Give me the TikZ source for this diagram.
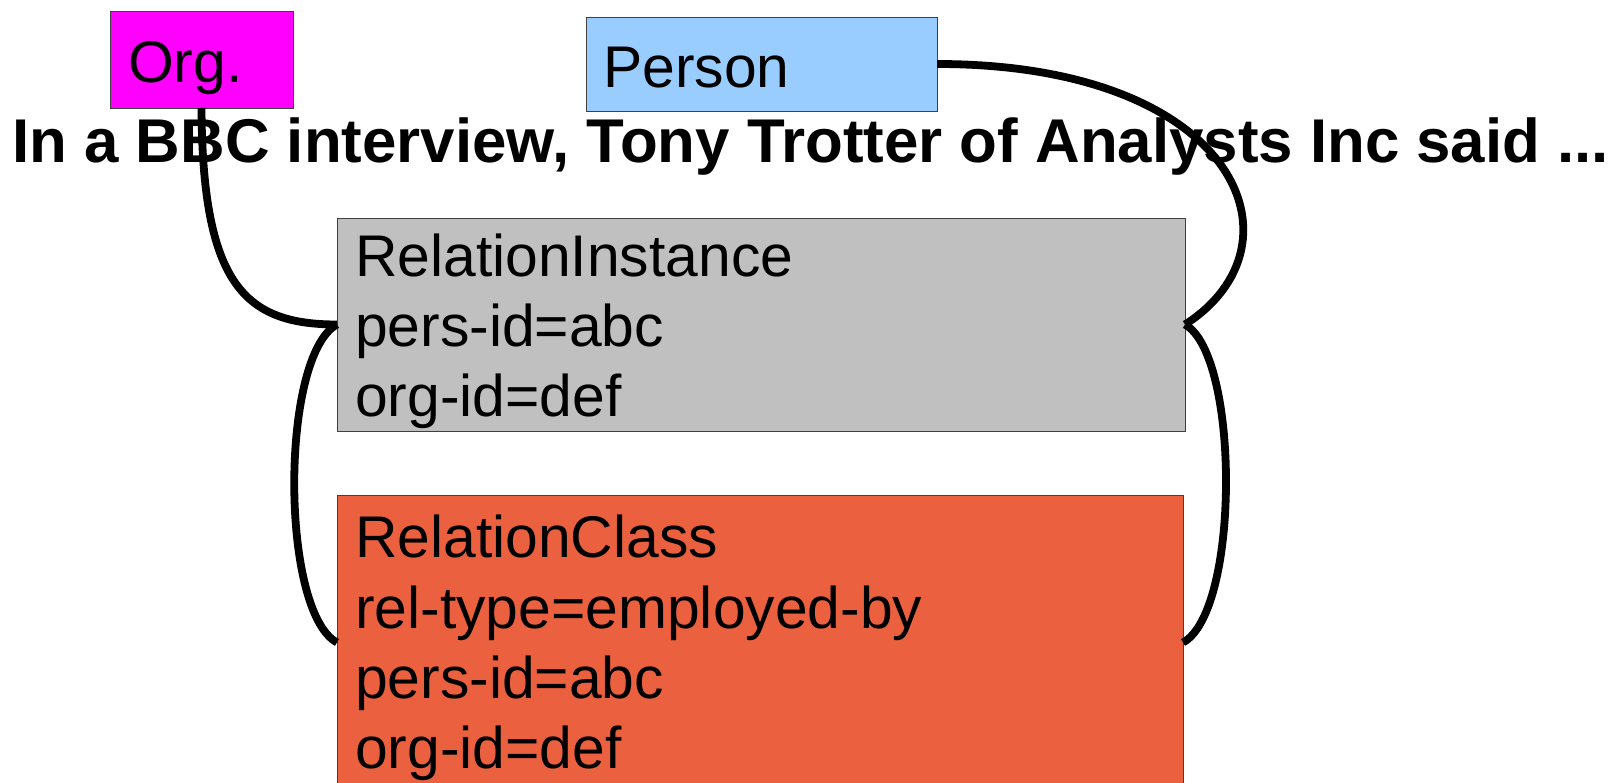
\documentclass[tikz,border=0pt]{standalone}
\usepackage{fontspec}
\setmainfont{Liberation Sans}
\usetikzlibrary{calc}
\definecolor{orgmag}{HTML}{FF00FF}
\definecolor{personblue}{HTML}{99CCFF}
\definecolor{instgray}{HTML}{C0C0C0}
\definecolor{classorange}{HTML}{EB613F}
\tikzset{
  box/.style={draw=black!75, line width=0.9pt, inner sep=0pt, outer sep=0pt, anchor=north west},
  boxtext/.style={anchor=base west, inner sep=0pt, font=\fontsize{58.8}{70}\selectfont},
  headline/.style={anchor=base west, inner sep=0pt, font=\fontsize{61.8}{70}\selectfont\bfseries},
  link/.style={line width=7.8pt, black},
}
\begin{document}
\begin{tikzpicture}[x=1pt,y=-1pt]
\useasboundingbox (0,0) rectangle (1610,783);
\clip (0,0) rectangle (1610,783);

% entity boxes
\node[box, fill=orgmag, minimum width=183pt, minimum height=97pt] (org) at (110,11) {};
\node[box, fill=personblue, minimum width=351pt, minimum height=94pt] (person) at (586,17) {};
\node[box, fill=instgray, minimum width=848pt, minimum height=213pt] (inst) at (337,218) {};
\node[box, fill=classorange, minimum width=846pt, minimum height=295pt] (cls) at (337,495) {};

% box labels
\node[boxtext] (orgtxt) at (128,83) {Org.};
\node[boxtext] (persontxt) at (603,88) {Person};
\node[boxtext] (inst1) at (355,277) {RelationInstance};
\node[boxtext] (inst2) at (355,347) {pers-id=abc};
\node[boxtext] (inst3) at (355,417) {org-id=def};
\node[boxtext] (cls1) at (355,558) {RelationClass};
\node[boxtext] (cls2) at (355,628) {rel-type=employed-by};
\node[boxtext] (cls3) at (355,698) {pers-id=abc};
\node[boxtext] (cls4) at (355,768) {org-id=def};

% sentence
\node[headline] (sentence) at (12,163) {In a BBC interview, Tony Trotter of Analysts Inc said ...};

% connectors
\draw[link] (org.south) .. controls ($(org.south)+(1,177)$) and ($(inst.west)+(-92,0)$) .. (inst.west);
\draw[link] (person.east) .. controls ($(person.east)+(300,0)$) and ($(inst.east)+(125,-80)$) .. (inst.east);
\draw[link] (inst.west) .. controls ($(inst.west)+(-57,31)$) and ($(cls.west)+(-57,-31)$) .. (cls.west);
\draw[link] (inst.east) .. controls ($(inst.east)+(55,31)$) and ($(cls.east)+(57,-31)$) .. (cls.east);
\end{tikzpicture}
\end{document}
